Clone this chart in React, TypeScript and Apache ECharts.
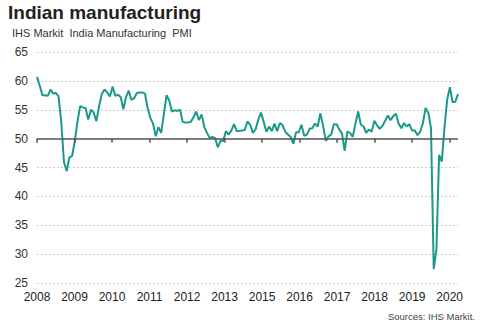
import React, { useEffect, useRef } from "react";
import * as echarts from "echarts";

// Tick labels as printed on the original chart (it skips 2014)
const yearLabels = ["2008", "2009", "2010", "2011", "2012", "2013", "2015", "2016", "2017", "2018", "2019", "2020"];

// Monthly PMI, Jan 2008 - Jan 2021
const pmi2008 = [60.7, 59.2, 57.5, 57.5, 57.4, 58.5, 57.8, 57.9, 57.3, 52.8, 45.9, 44.4];
const pmi2009 = [46.7, 47.0, 49.5, 53.0, 55.6, 55.4, 55.3, 53.3, 55.0, 54.5, 53.0, 55.6];
const pmi2010 = [57.7, 58.5, 58.0, 57.3, 59.0, 57.4, 57.6, 57.2, 55.1, 57.2, 58.3, 56.7];
const pmi2011 = [57.0, 57.9, 58.0, 58.0, 57.8, 55.3, 53.6, 52.6, 50.4, 52.0, 51.0, 54.2];
const pmi2012 = [57.5, 56.6, 54.7, 54.9, 54.8, 55.0, 52.9, 52.8, 52.8, 52.9, 53.7, 54.7];
const pmi2013 = [53.2, 54.2, 52.0, 51.0, 50.1, 50.3, 50.1, 48.5, 49.6, 49.6, 51.3, 50.7];
const pmi2014 = [51.4, 52.5, 51.3, 51.3, 51.4, 51.5, 53.0, 52.4, 51.0, 51.6, 53.3, 54.5];
const pmi2015 = [52.9, 51.2, 52.1, 51.3, 52.6, 51.3, 52.7, 52.3, 51.2, 50.7, 50.3, 49.1];
const pmi2016 = [51.1, 51.1, 52.4, 50.5, 50.7, 51.7, 51.8, 52.6, 52.1, 54.4, 52.3, 49.6];
const pmi2017 = [50.4, 50.7, 52.5, 52.5, 51.6, 50.9, 47.9, 51.2, 51.0, 50.3, 52.6, 54.7];
const pmi2018 = [52.4, 52.1, 51.0, 51.6, 51.2, 53.1, 52.3, 51.7, 52.2, 53.1, 54.0, 53.2];
const pmi2019 = [53.9, 54.3, 52.6, 51.8, 52.7, 52.1, 52.5, 51.4, 51.4, 50.6, 51.2, 52.7];
const pmi2020 = [55.3, 54.5, 51.8, 27.4, 30.8, 47.2, 46.0, 52.0, 56.8, 58.9, 56.3, 56.4];
const pmi2021 = [57.7];

const pmi = [
  ...pmi2008, ...pmi2009, ...pmi2010, ...pmi2011, ...pmi2012, ...pmi2013, ...pmi2014,
  ...pmi2015, ...pmi2016, ...pmi2017, ...pmi2018, ...pmi2019, ...pmi2020, ...pmi2021,
];

const FONT = "'Liberation Sans', Arial, Helvetica, sans-serif";
const W = 491;
const H = 326;
const GRID_TOP = 52;
const GRID_BOTTOM = 43;
const GRID_LEFT = 37;
const GRID_RIGHT = 33;
const Y_MIN = 25;
const Y_MAX = 65;
const Y_STEP = 5;
const REF_LINE = 50;
const LABEL_STEP = 13.9; // months between printed labels
const TICK_LEN_PX = 4;

export default function App() {
  const ref = useRef<HTMLDivElement>(null);

  useEffect(() => {
    if (!ref.current) return;
    const chart = echarts.init(ref.current, null, { renderer: "svg" });
    const xMax = pmi.length - 1;
    const labelValues = yearLabels.map((_, i) => i * LABEL_STEP);
    const gridH = H - GRID_TOP - GRID_BOTTOM;
    const tickLen = TICK_LEN_PX / (gridH / (Y_MAX - Y_MIN));

    const refLines: any[] = [
      [{ coord: [0, REF_LINE] }, { coord: [xMax, REF_LINE] }],
      ...labelValues.map((x) => [{ coord: [x, REF_LINE] }, { coord: [x, REF_LINE - tickLen] }]),
    ];

    chart.setOption({
      animation: false,
      title: [
        {
          text: "Indian manufacturing",
          left: 8,
          top: 3,
          padding: 0,
          textStyle: { fontFamily: FONT, fontSize: 19, fontWeight: "bold", color: "#222222" },
        },
        {
          text: "IHS Markit  India Manufacturing  PMI",
          left: 12,
          top: 27,
          padding: 0,
          textStyle: { fontFamily: FONT, fontSize: 11, fontWeight: "normal", color: "#333333" },
        },
        {
          text: "Sources: IHS Markit.",
          right: 16,
          top: 311,
          padding: 0,
          textStyle: { fontFamily: FONT, fontSize: 9.5, fontWeight: "normal", color: "#444444" },
        },
      ],
      grid: { left: GRID_LEFT, right: GRID_RIGHT, top: GRID_TOP, bottom: GRID_BOTTOM },
      xAxis: {
        type: "value",
        min: 0,
        max: xMax,
        axisLine: { show: false, onZero: false },
        axisTick: { show: false },
        splitLine: { show: false },
        axisLabel: {
          customValues: labelValues,
          formatter: (v: number) => yearLabels[Math.round(v / LABEL_STEP)] ?? "",
          fontFamily: FONT,
          fontSize: 12,
          color: "#222222",
          margin: 8,
        },
      },
      yAxis: {
        type: "value",
        min: Y_MIN,
        max: Y_MAX,
        interval: Y_STEP,
        axisLine: { show: false },
        axisTick: { show: false },
        axisLabel: {
          fontFamily: FONT,
          fontSize: 12,
          color: "#333333",
          margin: 9,
        },
        splitLine: { show: true, lineStyle: { color: "#cccccc", type: [2, 2], width: 1 } },
      },
      series: [
        {
          type: "line",
          data: [],
          z: 1,
          silent: true,
          markLine: {
            silent: true,
            symbol: ["none", "none"],
            label: { show: false },
            lineStyle: { color: "#555555", width: 1.5, type: "solid" },
            data: refLines,
          },
        },
        {
          type: "line",
          data: pmi.map((v, i) => [i, v]),
          showSymbol: false,
          symbol: "none",
          lineStyle: { color: "#1a998b", width: 2 },
          z: 2,
        },
      ],
    });
    return () => chart.dispose();
  }, []);

  return <div ref={ref} style={{ width: W, height: H, position: "absolute", left: 0, top: 0 }} />;
}
